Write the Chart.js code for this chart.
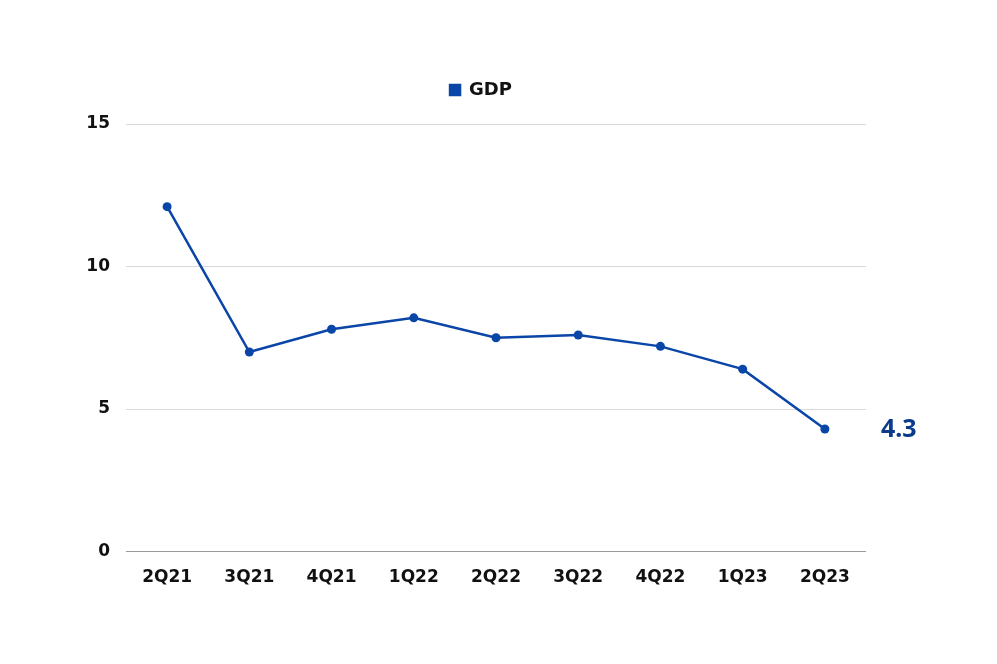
<!DOCTYPE html>
<html>
<head>
<meta charset="utf-8">
<script src="https://cdn.jsdelivr.net/npm/chart.js@4.4.1/dist/chart.umd.min.js"></script>
<style>
  html, body { margin: 0; padding: 0; background: #fff; }
  #wrap { width: 997px; height: 664px; }
</style>
</head>
<body>
<div id="wrap"><canvas id="gdpChart" width="997" height="664"></canvas></div>
<script>
const quarters = ["2Q21", "3Q21", "4Q21", "1Q22", "2Q22", "3Q22", "4Q22", "1Q23", "2Q23"];
const gdpValues = [12.1, 7.0, 7.8, 8.2, 7.5, 7.6, 7.2, 6.4, 4.3];
const yTicks = [0, 5, 10, 15];

const blue = "#0a45a8";
const tickFont = { family: "DejaVu Sans", weight: "bold", size: 17 };

// extra space under the legend, and nudge it a little to the right
const legendGap = {
  id: "legendGap",
  beforeInit(chart) {
    const fit = chart.legend.fit;
    chart.legend.fit = function () {
      fit.call(this);
      this.height += 15;
    };
  },
  afterLayout(chart) {
    chart.legend.left += 5;
    chart.legend.right += 5;
  }
};

// label next to the last point
const lastLabel = {
  id: "lastLabel",
  afterDatasetsDraw(chart) {
    const meta = chart.getDatasetMeta(0);
    const pt = meta.data[meta.data.length - 1];
    const ctx = chart.ctx;
    ctx.save();
    ctx.font = "bold 25px 'Noto Sans'";
    ctx.fillStyle = "#0b3a8c";
    ctx.textAlign = "left";
    ctx.textBaseline = "middle";
    ctx.fillText(String(gdpValues[gdpValues.length - 1]), pt.x + 56, pt.y + 1);
    ctx.restore();
  }
};

const ctx = document.getElementById("gdpChart");

new Chart(ctx, {
  type: "line",
  data: {
    labels: quarters,
    datasets: [{
      label: "GDP",
      data: gdpValues,
      borderColor: blue,
      backgroundColor: blue,
      borderWidth: 2.5,
      pointRadius: 4.5,
      pointHoverRadius: 4.5,
      pointBackgroundColor: blue,
      pointBorderWidth: 0,
      tension: 0
    }]
  },
  options: {
    responsive: false,
    animation: false,
    layout: { padding: { left: 86, right: 131, top: 56, bottom: 60 } },
    plugins: {
      tooltip: { enabled: false },
      legend: {
        display: true,
        position: "top",
        labels: {
          boxWidth: 10,
          boxHeight: 10,
          color: "#111",
          padding: 25,
          font: { family: "DejaVu Sans", weight: "bold", size: 18 }
        }
      }
    },
    scales: {
      x: {
        offset: true,
        grid: { display: false, drawTicks: false },
        border: { display: false },
        ticks: { color: "#111", font: tickFont, padding: 16, maxRotation: 0 }
      },
      y: {
        min: 0,
        max: 15,
        afterFit(scale) { scale.width = 40; },
        afterBuildTicks(scale) { scale.ticks = yTicks.map(v => ({ value: v })); },
        grid: {
          drawTicks: false,
          lineWidth: 1,
          color: c => (c.tick && c.tick.value === 0 ? "#9a9a9a" : "#d9d9d9")
        },
        border: { display: false },
        ticks: { color: "#111", font: tickFont, padding: 16 }
      }
    }
  },
  plugins: [legendGap, lastLabel]
});
</script>
</body>
</html>
